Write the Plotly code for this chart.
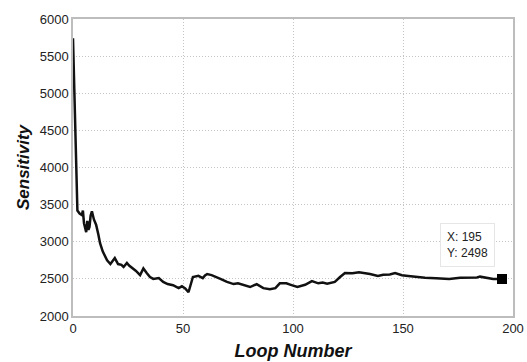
import plotly.graph_objects as go

loop_number = [0, 1, 2, 3, 4, 4.5, 5, 6, 6.5, 7, 7.5, 8, 8.6, 9.5, 10.5, 11.5, 12.3, 13.5,
               15.5, 17, 18, 19, 20.5, 22, 23, 24.5, 25.5, 27, 28.5, 30.5, 32, 33.5, 35,
               36.5, 39, 41, 43, 45.5, 47, 48, 49.5, 51, 52.5, 53.5, 54.5, 57, 59, 60, 61,
               63, 65, 67, 70, 73, 75, 78, 80.5, 83.5, 86.5, 89.5, 92, 94, 97, 99, 102,
               105.5, 108.6, 111.5, 113.5, 115.5, 119, 121.4, 123.6, 127, 130, 135, 138.6,
               141, 144, 146.4, 149.5, 152.4, 156, 160, 165, 168, 171, 176, 180, 183.6,
               185, 188, 191, 195]
sensitivity = [5740, 4400, 3420, 3380, 3360, 3420, 3250, 3130, 3280, 3160, 3200, 3350, 3410,
               3300, 3230, 3100, 2980, 2870, 2750, 2700, 2740, 2780, 2700, 2690, 2660, 2715,
               2680, 2645, 2610, 2550, 2640, 2580, 2525, 2500, 2510, 2460, 2430, 2415, 2390,
               2375, 2400, 2370, 2320, 2420, 2525, 2540, 2510, 2545, 2565, 2550, 2530, 2500,
               2460, 2430, 2440, 2410, 2390, 2430, 2375, 2360, 2375, 2440, 2440, 2420, 2390,
               2420, 2470, 2440, 2450, 2435, 2460, 2525, 2580, 2575, 2590, 2565, 2540, 2555,
               2560, 2580, 2550, 2540, 2525, 2515, 2510, 2500, 2500, 2515, 2515, 2520, 2530,
               2515, 2500, 2498]

x_ticks = [0, 50, 100, 150, 200]
y_ticks = [2000, 2500, 3000, 3500, 4000, 4500, 5000, 5500, 6000]

tip_x = loop_number[-1]
tip_y = sensitivity[-1]

font_family = "Liberation Sans, Arial, sans-serif"

fig = go.Figure()
fig.add_trace(go.Scatter(x=loop_number, y=sensitivity, mode="lines",
                         line=dict(color="#111111", width=2.5), showlegend=False))
fig.add_trace(go.Scatter(x=[tip_x], y=[tip_y], mode="markers",
                         marker=dict(symbol="square", size=10, color="#000000"),
                         showlegend=False))

fig.add_annotation(x=tip_x, y=tip_y, text=f"X: {tip_x}<br>Y: {tip_y}", showarrow=False,
                   xanchor="center", yanchor="middle", xshift=-35, yshift=34,
                   align="left", bgcolor="rgba(255,255,255,0.95)", bordercolor="#e6e6e6",
                   borderwidth=1, borderpad=6,
                   font=dict(family=font_family, size=12, color="#222222"))

axis_common = dict(showline=True, mirror=True, linecolor="#bdbdbd", linewidth=1.5,
                   showgrid=True, gridcolor="#c4c4c4", griddash="1px,2px", gridwidth=1,
                   zeroline=False, ticks="", automargin=False,
                   tickfont=dict(family=font_family, size=13, color="#222222"))

fig.update_xaxes(range=[0, 200], tickvals=x_ticks,
                 title=dict(text="<b><i>Loop Number</i></b>", standoff=9,
                            font=dict(family=font_family, size=18, color="#111111")),
                 **axis_common)
fig.update_yaxes(range=[2000, 6000], tickvals=y_ticks,
                 title=dict(text="<b><i>Sensitivity</i></b>", standoff=6,
                            font=dict(family=font_family, size=17, color="#111111")),
                 **axis_common)

fig.update_layout(width=527, height=362, margin=dict(l=73, r=14, t=19, b=46),
                  plot_bgcolor="white", paper_bgcolor="white")

fig.write_html("out.html")
